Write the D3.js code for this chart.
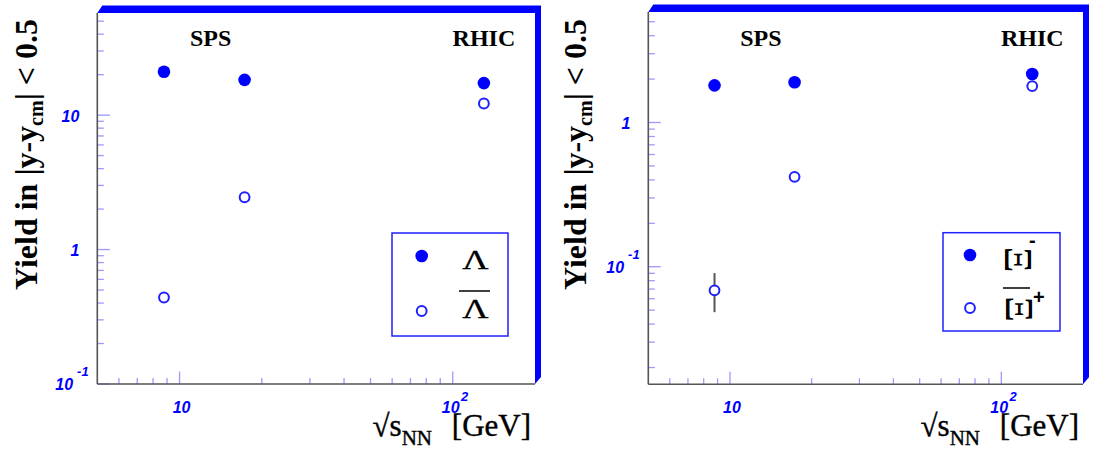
<!DOCTYPE html>
<html><head><meta charset="utf-8">
<script src="https://cdn.jsdelivr.net/npm/d3@7"></script>
<style>body{margin:0;background:#fff} svg{display:block}</style>
</head><body>
<svg id="c" width="1094" height="459"></svg>
<script>
// ---- data ----
const energies = [8.77, 17.3, 130];
const lambdaYield = [21.0, 18.3, 17.3];
const antiLambdaYield = [0.44, 2.45, 12.2];
const xiYield = [1.81, 1.90, 2.17];
const antiXiYield = [0.0686, 0.42, 1.79];
const antiXiErrLo = [0.0484, null, null];
const antiXiErrHi = [0.0903, null, null];
const xDomain = [5, 200];
const leftYDomain = [0.1, 57.5];
const rightYDomain = [0.0153, 5.84];
const xMajorTicks = [10, 100];
const xTickLabels = [["10", ""], ["10", "2"]];
const leftYMajor = [0.1, 1, 10];
const leftYLabels = [["10", "-1"], ["1", ""], ["10", ""]];
const rightYMajor = [0.1, 1];
const rightYLabels = [["10", "-1"], ["1", ""]];
const regionNames = ["SPS", "RHIC"];
const regionEnergy = [13, 130];

const svg = d3.select("#c");
const BLUE = "#0000ff";
const TICK = "#9a9aff";
const SERIF = "'Liberation Serif','Times New Roman',serif";
const SANS = "'Liberation Sans',Arial,sans-serif";

function panel(cfg) {
  const {x0, x1, y0, y1} = cfg;
  const g = svg.append("g");
  const x = d3.scaleLog().domain(xDomain).range([x0, x1]);
  const y = d3.scaleLog().domain(cfg.yDomain).range([y1, y0]);

  // 3D blue shadow
  g.append("path")
    .attr("d", `M${x0},${y0}L${x0+5},${y0-7.5}L${x1+6},${y0-7.5}L${x1+6},${y1-7}L${x1},${y1}L${x1},${y0}Z`)
    .attr("fill", BLUE);

  // x ticks
  x.ticks().filter(v => v > xDomain[0] * 1.001 && v < xDomain[1] * 0.999).forEach(v => {
    const major = xMajorTicks.includes(v);
    g.append("line").attr("x1", x(v)).attr("x2", x(v))
      .attr("y1", y1).attr("y2", y1 - (major ? 12.5 : 6))
      .attr("stroke", TICK).attr("stroke-width", 1.3);
  });
  // y ticks
  const yMaj = cfg.yMajor;
  y.ticks().filter(v => v >= cfg.yDomain[0] && v <= cfg.yDomain[1]).forEach(v => {
    const major = yMaj.some(m => Math.abs(m - v) / m < 1e-6);
    g.append("line").attr("x1", x0).attr("x2", x0 + (major ? 12.5 : 6.5))
      .attr("y1", y(v)).attr("y2", y(v))
      .attr("stroke", TICK).attr("stroke-width", 1.3);
  });

  // axes lines
  g.append("line").attr("x1", x0).attr("x2", x0).attr("y1", y0).attr("y2", y1)
    .attr("stroke", "#555").attr("stroke-width", 1.6);
  g.append("line").attr("x1", x0).attr("x2", x1).attr("y1", y1).attr("y2", y1)
    .attr("stroke", "#555").attr("stroke-width", 1.6);

  const lab = (sel, size) => sel.attr("font-family", SANS).attr("font-weight", "bold")
    .attr("font-style", "italic").attr("font-size", size).attr("fill", BLUE);

  // y tick labels
  yMaj.forEach((v, i) => {
    const [base, exp] = cfg.yLabels[i];
    if (exp) {
      const t = lab(g.append("text").attr("x", x0 - 42).attr("y", y(v) + 6), 16);
      t.append("tspan").text(base);
      t.append("tspan").attr("dx", 4).attr("dy", -14).attr("font-size", 13).text(exp);
    } else {
      lab(g.append("text").attr("x", x0 - 18).attr("y", y(v) + 6.5).attr("text-anchor", "end"), 16).text(base);
    }
  });
  // x tick labels
  xMajorTicks.forEach((v, i) => {
    const [base, exp] = xTickLabels[i];
    if (exp) {
      const t = lab(g.append("text").attr("x", x(v) - 11).attr("y", y1 + 29), 16);
      t.append("tspan").text(base);
      t.append("tspan").attr("dx", 1.5).attr("dy", -12).attr("font-size", 13).text(exp);
    } else {
      lab(g.append("text").attr("x", x(v) + 2).attr("y", y1 + 29).attr("text-anchor", "middle"), 16).text(base);
    }
  });

  // region labels
  regionNames.forEach((n, i) => {
    g.append("text").attr("x", x(regionEnergy[i])).attr("y", 46)
      .attr("text-anchor", "middle").attr("font-family", SERIF).attr("font-weight", "bold")
      .attr("font-size", 24).attr("fill", "#000").text(n);
  });

  // y title
  const yt = g.append("text").attr("transform", `translate(${cfg.ytX},290) rotate(-90)`)
    .attr("font-family", SERIF).attr("font-weight", "bold").attr("font-size", 32).attr("fill", "#000");
  yt.append("tspan").text("Yield in |y-y");
  yt.append("tspan").attr("font-size", 20).attr("dy", 6).text("cm");
  yt.append("tspan").attr("dy", -6).text("| < 0.5");

  // x title
  g.append("text").attr("x", x1 - 4).attr("y", 436).attr("text-anchor", "end")
    .attr("font-family", SERIF).attr("font-size", 31).attr("fill", "#000")
    .attr("stroke", "#000").attr("stroke-width", 0.4).text("[GeV]");
  const xt = g.append("text").attr("x", x1 - 103).attr("y", 436).attr("text-anchor", "end")
    .attr("font-family", SERIF).attr("font-size", 31).attr("fill", "#000")
    .attr("stroke", "#000").attr("stroke-width", 0.4);
  xt.append("tspan").text("\u221As");
  xt.append("tspan").attr("font-size", 21).attr("dy", 9).text("NN");

  // error bars
  if (cfg.errLo) {
    energies.forEach((e, i) => {
      if (cfg.errLo[i] == null) return;
      g.append("line").attr("x1", x(e)).attr("x2", x(e))
        .attr("y1", y(cfg.errLo[i])).attr("y2", y(cfg.errHi[i]))
        .attr("stroke", "#555").attr("stroke-width", 2);
    });
  }
  // points
  energies.forEach((e, i) => {
    g.append("circle").attr("cx", x(e)).attr("cy", y(cfg.filled[i])).attr("r", 6.3).attr("fill", BLUE);
  });
  energies.forEach((e, i) => {
    g.append("circle").attr("cx", x(e)).attr("cy", y(cfg.open[i])).attr("r", 4.9)
      .attr("fill", "#fff").attr("stroke", "#2020ff").attr("stroke-width", 2);
  });

  // legend
  const L = cfg.legend;
  g.append("rect").attr("x", L.x).attr("y", L.y).attr("width", L.w).attr("height", L.h)
    .attr("fill", "#fff").attr("stroke", "#2020ff").attr("stroke-width", 1.5);
  g.append("circle").attr("cx", L.mx).attr("cy", L.m1).attr("r", 6.3).attr("fill", BLUE);
  g.append("circle").attr("cx", L.mx).attr("cy", L.m2).attr("r", 4.9)
    .attr("fill", "#fff").attr("stroke", "#2020ff").attr("stroke-width", 2);
  L.draw(g);
}

panel({
  x0: 97.3, x1: 535, y0: 13, y1: 384, yDomain: leftYDomain, yMajor: leftYMajor, yLabels: leftYLabels,
  ytX: 37, filled: lambdaYield, open: antiLambdaYield,
  legend: {x: 392, y: 233, w: 116, h: 103, mx: 421.7, m1: 256, m2: 311,
    draw: g => {
      g.append("text").attr("transform", "translate(475.5,268.5) scale(1.3,1)")
        .attr("text-anchor", "middle").attr("font-family", SERIF).attr("font-size", 28)
        .attr("stroke", "#000").attr("stroke-width", 0.3).text("\u039B");
      g.append("line").attr("x1", 459).attr("x2", 490).attr("y1", 291).attr("y2", 291)
        .attr("stroke", "#000").attr("stroke-width", 1.5);
      g.append("text").attr("transform", "translate(475.5,318) scale(1.3,1)")
        .attr("text-anchor", "middle").attr("font-family", SERIF).attr("font-size", 28)
        .attr("stroke", "#000").attr("stroke-width", 0.3).text("\u039B");
    }}
});
panel({
  x0: 648.3, x1: 1083, y0: 12, y1: 384.3, yDomain: rightYDomain, yMajor: rightYMajor, yLabels: rightYLabels,
  ytX: 586, filled: xiYield, open: antiXiYield, errLo: antiXiErrLo, errHi: antiXiErrHi,
  legend: {x: 943, y: 232.7, w: 117, h: 98.3, mx: 970, m1: 255, m2: 308,
    draw: g => {
      g.append("text").attr("transform", "translate(1018,259.5) rotate(90)")
        .attr("text-anchor", "middle").attr("dominant-baseline", "central")
        .attr("font-family", SERIF).attr("font-size", 40).text("\u039E");
      g.append("text").attr("x", 1029).attr("y", 247).attr("font-family", SANS).attr("font-weight", "bold")
        .attr("font-size", 20).text("-");
      g.append("line").attr("x1", 1003).attr("x2", 1030).attr("y1", 288).attr("y2", 288)
        .attr("stroke", "#000").attr("stroke-width", 1.5);
      g.append("text").attr("transform", "translate(1019,309) rotate(90)")
        .attr("text-anchor", "middle").attr("dominant-baseline", "central")
        .attr("font-family", SERIF).attr("font-size", 40).text("\u039E");
      g.append("text").attr("x", 1033).attr("y", 304).attr("font-family", SANS).attr("font-weight", "bold")
        .attr("font-size", 20).text("+");
    }}
});
</script>
</body></html>
